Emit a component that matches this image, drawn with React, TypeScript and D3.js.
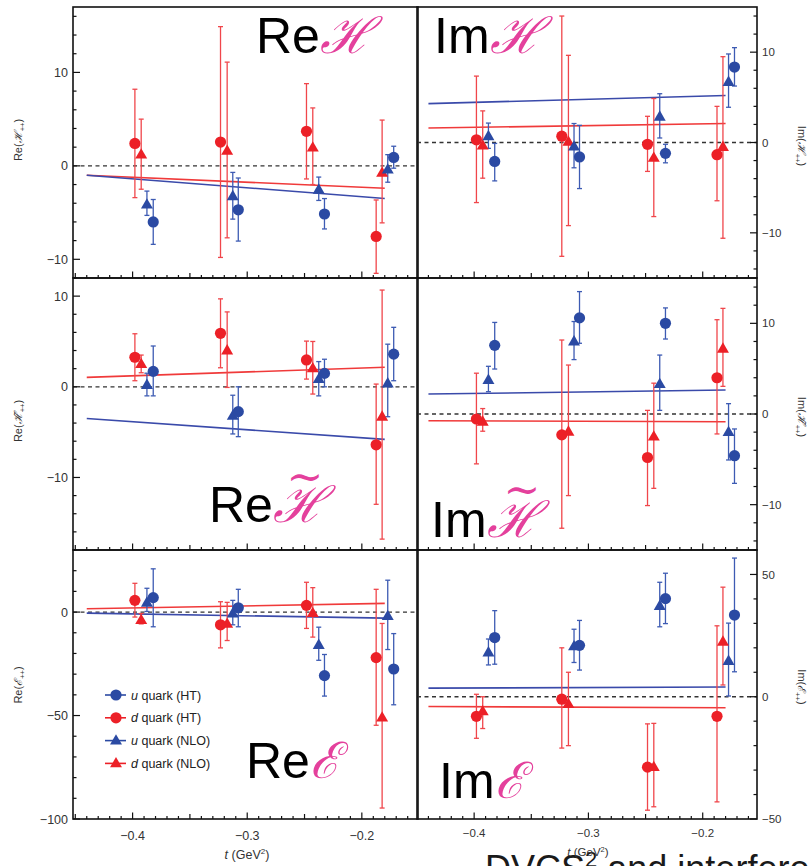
import React from 'react';
import * as d3 from 'd3';

// ---------- data ----------
// t positions of each series (GeV^2)
const tDHT = [-0.398, -0.3233, -0.2483, -0.1875];
const tDNLO = [-0.3925, -0.3175, -0.2428, -0.1823];
const tUNLO = [-0.3875, -0.3126, -0.2376, -0.1774];
const tUHT = [-0.382, -0.3078, -0.2326, -0.1722];
const tFit = [-0.44, -0.18];

// each entry: [value, low, high]
const reH_dHT = [[2.4, -3.4, 8.2], [2.55, -9.8, 14.9], [3.7, -1.4, 8.8], [-7.55, -11.5, -3.65]];
const reH_dNLO = [[1.2, -2.5, 5.0], [1.6, -7.7, 11.1], [1.95, -2.0, 6.2], [-0.75, -6.1, 4.9]];
const reH_uNLO = [[-4.15, -5.3, -2.7], [-3.25, -5.7, -0.7], [-2.55, -3.7, -1.2], [-0.4, -1.75, 1.2]];
const reH_uHT = [[-6.0, -8.4, -3.6], [-4.7, -8.05, -1.3], [-5.15, -6.75, -3.5], [0.9, -0.25, 2.1]];
const reH_fitD = [-1.0, -2.4];
const reH_fitU = [-1.0, -3.5];

const imH_dHT = [[0.3, -6.65, 7.35], [0.7, -12.6, 14.0], [-0.2, -3.2, 2.9], [-1.35, -6.45, 4.0]];
const imH_dNLO = [[-0.35, -3.95, 3.5], [0.07, -9.2, 9.65], [-1.7, -8.2, 4.87], [-0.5, -10.6, 9.5]];
const imH_uNLO = [[0.7, -0.65, 2.15], [-0.45, -2.8, 2.1], [2.85, 0.5, 5.4], [6.7, 3.9, 9.8]];
const imH_uHT = [[-2.1, -4.25, -0.1], [-1.6, -5.1, 1.9], [-1.2, -2.25, -0.2], [8.35, 6.25, 10.5]];
const imH_fitD = [1.6, 2.1];
const imH_fitU = [4.3, 5.2];

const reHt_dHT = [[3.26, 0.67, 5.85], [5.9, 2.1, 9.7], [2.96, 0.85, 5.04], [-6.4, -12.96, 0.3]];
const reHt_dNLO = [[2.5, 1.55, 3.5], [4.0, -0.07, 8.26], [2.04, -0.8, 5.0], [-3.3, -16.8, 10.67]];
const reHt_uNLO = [[0.2, -1.0, 1.5], [-3.2, -5.2, -0.93], [0.85, -1.0, 2.78], [0.37, -3.3, 4.7]];
const reHt_uHT = [[1.7, -1.0, 4.5], [-2.74, -5.5, 0.0], [1.48, 0.0, 3.04], [3.6, 0.67, 6.56]];
const reHt_fitD = [1.04, 2.15];
const reHt_fitU = [-3.5, -5.8];

const imHt_dHT = [[-0.55, -5.5, 4.5], [-2.3, -12.6, 8.16], [-4.8, -10.1, 0.4], [4.0, -2.2, 10.4]];
const imHt_dNLO = [[-0.85, -1.9, 0.6], [-1.95, -9.0, 5.4], [-2.5, -8.2, 3.4], [7.2, 3.05, 11.65]];
const imHt_uNLO = [[3.75, 2.46, 5.26], [8.0, 6.0, 10.2], [3.3, 0.4, 6.5], [-2.0, -5.07, 1.14]];
const imHt_uHT = [[7.57, 4.96, 10.1], [10.6, 7.8, 13.5], [10.0, 8.27, 11.7], [-4.6, -7.65, -1.65]];
const imHt_fitD = [-0.74, -0.85];
const imHt_fitU = [2.2, 2.65];

const reE_dHT = [[5.66, -2.4, 13.9], [-6.15, -17.3, 5.0], [3.24, -7.9, 14.4], [-22.0, -54.7, 11.0]];
const reE_dNLO = [[-3.9, -5.7, -0.7], [-5.66, -13.75, 4.7], [-0.5, -12.1, 11.8], [-51.0, -94.7, -5.5]];
const reE_uNLO = [[4.5, 0.3, 11.5], [-0.65, -6.15, 5.66], [-15.9, -23.3, -7.3], [-1.94, -18.1, 15.4]];
const reE_uHT = [[7.0, -7.1, 20.9], [2.1, -7.1, 11.0], [-30.7, -40.6, -20.5], [-27.5, -44.8, -10.4]];
const reE_fitD = [1.6, 4.2];
const reE_fitU = [-0.5, -2.9];

const imE_dHT = [[-8.0, -17.0, 1.0], [-1.0, -21.0, 20.0], [-28.8, -46.4, -11.1], [-8.0, -43.0, 29.0]];
const imE_dNLO = [[-6.0, -13.0, 0.0], [-3.0, -20.0, 10.0], [-28.8, -45.0, -10.9], [22.5, 4.8, 44.8]];
const imE_uNLO = [[18.1, 13.0, 23.6], [20.6, 14.0, 27.6], [37.1, 28.6, 46.8], [14.6, 0.3, 30.1]];
const imE_uHT = [[24.2, 13.3, 35.2], [21.0, 10.9, 31.2], [40.1, 29.9, 50.5], [33.4, 10.2, 56.7]];
const imE_fitD = [-4.0, -4.5];
const imE_fitU = [3.5, 4.0];

const xTickLabels = [-0.4, -0.3, -0.2];
const legendLabels = [
  ['u', ' quark (HT)'],
  ['d', ' quark (HT)'],
  ['u', ' quark (NLO)'],
  ['d', ' quark (NLO)'],
];

// ---------- styling ----------
const BLUE = '#2b4aa3';
const BLUE_ERR = '#3d5bb3';
const RED = '#ec2027';
const RED_ERR = '#f0464b';
const PINK = '#e4409c';
const FONT = "'Liberation Sans', Arial, Helvetica, sans-serif";

const SERIES = [
  { key: 'dHT', color: RED, err: RED_ERR, shape: 'circle', t: tDHT },
  { key: 'dNLO', color: RED, err: RED_ERR, shape: 'triangle', t: tDNLO },
  { key: 'uNLO', color: BLUE, err: BLUE_ERR, shape: 'triangle', t: tUNLO },
  { key: 'uHT', color: BLUE, err: BLUE_ERR, shape: 'circle', t: tUHT },
];

const COLS = [
  { x0: 73, x1: 418, domain: [-0.452, -0.151], side: 'left' },
  { x0: 417, x1: 757, domain: [-0.45, -0.1525], side: 'right' },
];
const ROWS = [
  { y0: 7, y1: 278 },
  { y0: 278, y1: 550 },
  { y0: 550, y1: 819 },
];

const PANELS = [
  { row: 0, col: 0, y: [-12, 17], minor: 2, major: 10, labels: [-10, 0, 10], data: { dHT: reH_dHT, dNLO: reH_dNLO, uNLO: reH_uNLO, uHT: reH_uHT }, fitD: reH_fitD, fitU: reH_fitU, pre: 'Re', tilde: false, sym: 'ℋ', lab: { x: 22, y: 140 } },
  { row: 0, col: 1, y: [-15, 15], minor: 2, major: 10, labels: [-10, 0, 10], data: { dHT: imH_dHT, dNLO: imH_dNLO, uNLO: imH_uNLO, uHT: imH_uHT }, fitD: imH_fitD, fitU: imH_fitU, pre: 'Im', tilde: false, sym: 'ℋ', lab: { x: 798, y: 146 } },
  { row: 1, col: 0, y: [-18, 12], minor: 2, major: 10, labels: [-10, 0, 10], data: { dHT: reHt_dHT, dNLO: reHt_dNLO, uNLO: reHt_uNLO, uHT: reHt_uHT }, fitD: reHt_fitD, fitU: reHt_fitU, pre: 'Re', tilde: true, sym: 'ℋ', lab: { x: 22, y: 421 } },
  { row: 1, col: 1, y: [-15, 15], minor: 2, major: 10, labels: [-10, 0, 10], data: { dHT: imHt_dHT, dNLO: imHt_dNLO, uNLO: imHt_uNLO, uHT: imHt_uHT }, fitD: imHt_fitD, fitU: imHt_fitU, pre: 'Im', tilde: true, sym: 'ℋ', lab: { x: 798, y: 417 } },
  { row: 2, col: 0, y: [-100, 30], minor: 10, major: 50, labels: [-100, -50, 0], data: { dHT: reE_dHT, dNLO: reE_dNLO, uNLO: reE_uNLO, uHT: reE_uHT }, fitD: reE_fitD, fitU: reE_fitU, pre: 'Re', tilde: false, sym: 'ℰ', lab: { x: 22, y: 685 } },
  { row: 2, col: 1, y: [-50, 60], minor: 10, major: 50, labels: [-50, 0, 50], data: { dHT: imE_dHT, dNLO: imE_dNLO, uNLO: imE_uNLO, uHT: imE_uHT }, fitD: imE_fitD, fitU: imE_fitU, pre: 'Im', tilde: false, sym: 'ℰ', lab: { x: 798, y: 687 } },
];

// big overlay labels
const BIG = [
  { pre: 'Re', sym: 'ℋ', x: 256, y: 53, tilde: null },
  { pre: 'Im', sym: 'ℋ', x: 434, y: 53, tilde: null },
  { pre: 'Re', sym: 'ℋ', x: 209, y: 522, tilde: { x: 305, y: 492 } },
  { pre: 'Im', sym: 'ℋ', x: 431, y: 537, tilde: { x: 522, y: 505 } },
  { pre: 'Re', sym: 'ℰ', x: 246, y: 778, tilde: null },
  { pre: 'Im', sym: 'ℰ', x: 439, y: 798, tilde: null },
];

const fmt = (v: number) => (v < 0 ? '\u2212' + String(Math.abs(v)) : String(v));

const triPath = d3.symbol().type(d3.symbolTriangle).size(62)() as string;
const triPathLegend = d3.symbol().type(d3.symbolTriangle).size(62)() as string;

function Marker({ shape, x, y, color, legend }: any) {
  if (shape === 'circle') return <circle cx={x} cy={y} r={5.6} fill={color} />;
  return <path d={legend ? triPathLegend : triPath} transform={`translate(${x},${y + 0.5})`} fill={color} />;
}

function Panel({ p }: any) {
  const col = COLS[p.col];
  const row = ROWS[p.row];
  const x = d3.scaleLinear().domain(col.domain).range([col.x0, col.x1]);
  const y = d3.scaleLinear().domain(p.y).range([row.y1, row.y0]);
  const isLeft = col.side === 'left';
  const axisX = isLeft ? col.x0 : col.x1;
  const dir = isLeft ? 1 : -1;

  const yTicks = d3.range(Math.ceil(p.y[0] / p.minor) * p.minor, p.y[1] + 1e-9, p.minor);
  const xTicks = d3.range(-45, -14).map((i) => i / 100).filter((v) => v > col.domain[0] && v < col.domain[1]);

  const line = d3.line<number>().x((_, i) => x(tFit[i])).y((d) => y(d));

  const fs = isLeft ? 12.5 : 11.5;

  return (
    <g>
      {/* zero dashed line */}
      <line x1={col.x0} x2={col.x1} y1={y(0)} y2={y(0)} stroke="#333" strokeWidth={1.3} strokeDasharray="4,3.5" />
      {/* fits */}
      <path d={line(p.fitD) as string} stroke="#f03a3a" strokeWidth={1.6} fill="none" />
      <path d={line(p.fitU) as string} stroke="#3a4aaa" strokeWidth={1.6} fill="none" />
      {/* error bars */}
      {SERIES.map((s) =>
        p.data[s.key].map((d: number[], i: number) => {
          const cx = x(s.t[i]);
          return (
            <g key={s.key + i} stroke={s.err} strokeWidth={1.3}>
              <line x1={cx} x2={cx} y1={y(d[1])} y2={y(d[2])} />
              <line x1={cx - 2.5} x2={cx + 2.5} y1={y(d[1])} y2={y(d[1])} />
              <line x1={cx - 2.5} x2={cx + 2.5} y1={y(d[2])} y2={y(d[2])} />
            </g>
          );
        })
      )}
      {/* markers */}
      {SERIES.map((s) =>
        p.data[s.key].map((d: number[], i: number) => (
          <Marker key={s.key + 'm' + i} shape={s.shape} x={x(s.t[i])} y={y(d[0])} color={s.color} />
        ))
      )}
      {/* frame */}
      <rect x={col.x0} y={row.y0} width={col.x1 - col.x0} height={row.y1 - row.y0} fill="none" stroke="#111" strokeWidth={1.6} />
      {/* y ticks */}
      {yTicks.map((v) => {
        const maj = Math.abs(v % p.major) < 1e-9;
        const len = maj ? 7 : 3.5;
        return <line key={'yt' + v} x1={axisX} x2={axisX + dir * len} y1={y(v)} y2={y(v)} stroke="#111" strokeWidth={1.2} />;
      })}
      {p.labels.map((v: number) => (
        <text key={'yl' + v} x={isLeft ? axisX - 5 : axisX + 5} y={y(v)} dy="0.36em" textAnchor={isLeft ? 'end' : 'start'} fontFamily={FONT} fontSize={fs} fill="#333">
          {fmt(v)}
        </text>
      ))}
      {/* x ticks */}
      {xTicks.map((v) => {
        const k = Math.round(v * 100);
        const len = k % 10 === 0 ? 6.5 : k % 5 === 0 ? 5 : 3;
        return <line key={'xt' + k} x1={x(v)} x2={x(v)} y1={row.y1} y2={row.y1 - len} stroke="#111" strokeWidth={1.2} />;
      })}
      {p.row === 2 &&
        xTickLabels.map((v) => (
          <text key={'xl' + v} x={x(v)} y={isLeft ? 840 : 837} textAnchor="middle" fontFamily={FONT} fontSize={fs} fill="#333">
            {fmt(v)}
          </text>
        ))}
      {/* axis label */}
      <text
        transform={`translate(${p.lab.x},${p.lab.y}) rotate(${isLeft ? -90 : 90})`}
        textAnchor="middle"
        fontFamily={FONT}
        fontSize={11}
        fill="#333"
      >
        {p.pre}(
        <tspan fontFamily="'DejaVu Serif', serif" fontStyle="italic">{p.sym}{p.tilde ? '\u0303' : ''}</tspan>
        <tspan fontSize={7.5} dy={3}>++</tspan>
        <tspan dy={-3}>)</tspan>
      </text>
    </g>
  );
}

export default function App() {
  return (
    <svg width={808} height={866} style={{ position: 'absolute', left: 0, top: 0, background: '#fff' }}>
      <rect width={808} height={866} fill="#fff" />
      {PANELS.map((p, i) => (
        <Panel key={i} p={p} />
      ))}
      {/* legend */}
      {SERIES.slice()
        .sort((a, b) => ['uHT', 'dHT', 'uNLO', 'dNLO'].indexOf(a.key) - ['uHT', 'dHT', 'uNLO', 'dNLO'].indexOf(b.key))
        .map((s, i) => {
          const yy = 695 + i * 22.8;
          return (
            <g key={'lg' + i}>
              <line x1={105} x2={126} y1={yy} y2={yy} stroke={s.color} strokeWidth={1.6} />
              <Marker shape={s.shape} x={116} y={yy} color={s.color} legend />
              <text x={131} y={yy} dy="0.36em" fontFamily={FONT} fontSize={12.5} fill="#222">
                <tspan fontStyle="italic">{legendLabels[i][0]}</tspan>
                {legendLabels[i][1]}
              </text>
            </g>
          );
        })}
      {/* x axis titles */}
      <text x={247} y={859} textAnchor="middle" fontFamily={FONT} fontSize={12.5} fill="#333">
        <tspan fontStyle="italic">t</tspan> (GeV<tspan fontSize={8} dy={-5}>2</tspan><tspan dy={5}>)</tspan>
      </text>
      {/* big overlay labels */}
      {BIG.map((b, i) => (
        <g key={'big' + i}>
          <text x={b.x} y={b.y} fontFamily={FONT} fontSize={50} fill="#000">
            {b.pre}
            <tspan fill={PINK} fontFamily="'DejaVu Serif', serif" fontStyle="italic" fontSize={50}>
              {b.sym}
            </tspan>
          </text>
          {b.tilde && (
            <text x={b.tilde.x} y={b.tilde.y} textAnchor="middle" fontFamily="'DejaVu Serif', serif" fontSize={44} fill={PINK}>
              ~
            </text>
          )}
        </g>
      ))}
      {/* caption fragment at bottom */}
      <text x={485} y={881} fontFamily={FONT} fontSize={36} fill="#1a1a1a">
        DVCS<tspan fontSize={22} dy={-14}>2</tspan><tspan dy={14}> and interference</tspan>
      </text>
      <text x={588} y={856} textAnchor="middle" fontFamily={FONT} fontSize={11.5} fill="#333">
        <tspan fontStyle="italic">t</tspan> (GeV<tspan fontSize={7.5} dy={-4}>2</tspan><tspan dy={4}>)</tspan>
      </text>
    </svg>
  );
}
